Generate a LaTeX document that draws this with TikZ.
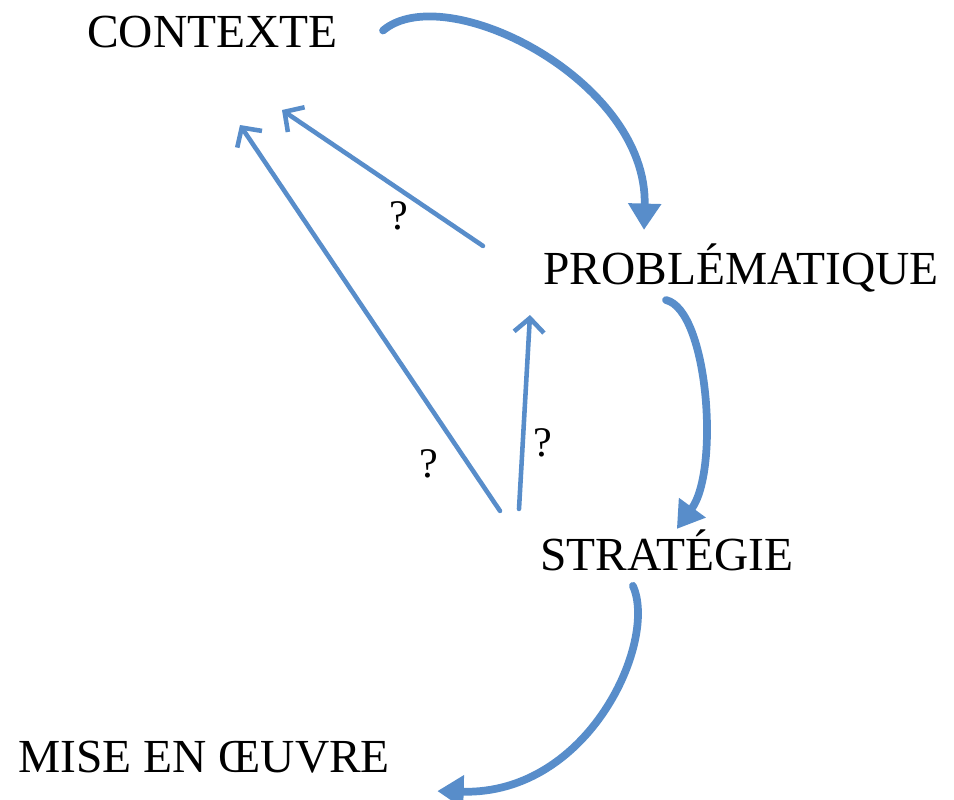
\documentclass[tikz,border=0pt]{standalone}
\usepackage{fontspec}
\setmainfont{Liberation Serif}
\usepackage{xcolor}
\usetikzlibrary{arrows.meta, calc}
\definecolor{flowblue}{RGB}{88,141,202}

\begin{document}
\begin{tikzpicture}[x=0.02cm, y=-0.02cm]
    \tikzstyle{stage} = [inner sep=0pt, anchor=base west, font=\fontsize{27}{32}\selectfont]
    \tikzstyle{query} = [inner sep=0pt, font=\fontsize{24}{28}\selectfont]
    \tikzstyle{flow} = [draw=flowblue, line width=4.4pt, line cap=round, -{Triangle[length=15pt, width=18pt]}]
    \tikzstyle{back} = [draw=flowblue, line width=2.6pt, line cap=round, -{Straight Barb[length=8pt, width=17pt, line width=2.6pt]}]
    \useasboundingbox (0,0) rectangle (954,799);

    % Stages
    \node [stage] (contexte) at (87,47) {CONTEXTE};
    \node [stage] (problematique) at (543,284) {PROBLÉMATIQUE};
    \node [stage] (strategie) at (540,570) {STRATÉGIE};
    \node [stage] (oeuvre) at (18,772) {MISE EN ŒUVRE};

    % Question marks
    \node [query] (q1) at (399,216) {?};
    \node [query] (q2) at (543,443) {?};
    \node [query] (q3) at (429,464) {?};

    % Free ends of the backward arrows
    \coordinate (tipa) at (282,110);
    \coordinate (tipb) at (240,125);
    \coordinate (tipc) at (530,315);

    % Main sequence
    \draw [flow] ($(contexte.east)+(45,-1)$) .. controls (445,-22) and (648,80) .. ($(problematique.north)+(-97,-13)$);
    \draw [flow] ($(problematique.south)+(-75,8)$) .. controls (708,310) and (720,470) .. ($(strategie.north)+(10,0)$);
    \draw [flow] ($(strategie.south)+(-34,15)$) .. controls (658,640) and (590,795) .. ($(oeuvre.south east)+(47,18)$);

    % Questions back
    \draw [back] ($(problematique.north west)+(-60,3)$) -- (tipa);
    \draw [back] ($(strategie.north west)+(-40,-18)$) -- (tipb);
    \draw [back] ($(strategie.north west)+(-21,-20)$) -- (tipc);
\end{tikzpicture}
\end{document}
